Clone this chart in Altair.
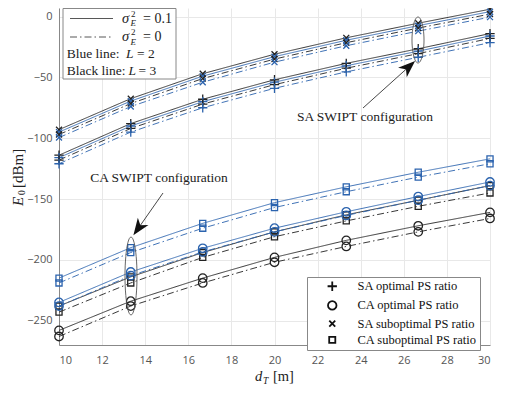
import altair as alt
import pandas as pd
import numpy as np

# ---------------- data ----------------
d_T = [10, 13.33, 16.67, 20, 23.33, 26.67, 30]

sa_sub_L3_s01 = [-93, -67.5, -47, -31, -17.5, -5.5, 6]
sa_sub_L2_s01 = [-95, -69.5, -49, -33, -19.5, -7.5, 4]
sa_sub_L3_s0 = [-97, -71.5, -51, -35, -21.5, -9.5, 2]
sa_sub_L2_s0 = [-99.5, -74, -54, -37.5, -24, -12, -0.5]

sa_opt_L3_s01 = [-114, -88, -68, -52, -38.5, -26.5, -14]
sa_opt_L2_s01 = [-116, -90, -70, -54, -40.5, -28.5, -16]
sa_opt_L3_s0 = [-118, -92, -72, -56, -42.5, -30.5, -18]
sa_opt_L2_s0 = [-121, -95, -75, -59, -45.5, -33.5, -21.5]

ca_sub_L2_s01 = [-215, -190, -170, -153, -140, -128, -117]
ca_sub_L2_s0 = [-219, -194, -174, -157, -144, -132, -121]
ca_sub_L3_s01 = [-238, -214, -194, -177, -163, -151, -139]
ca_sub_L3_s0 = [-243, -219, -198, -181, -168, -156, -145]

ca_opt_L2_s01 = [-235, -210, -190.5, -174, -160.5, -148, -136]
ca_opt_L2_s0 = [-238, -213, -193.5, -177, -163.5, -151, -139]
ca_opt_L3_s01 = [-258, -234, -215, -198, -184, -172, -161]
ca_opt_L3_s0 = [-263, -238, -219, -202, -189, -177, -166]

methods = ["SA optimal PS ratio", "CA optimal PS ratio",
           "SA suboptimal PS ratio", "CA suboptimal PS ratio"]

series = [
    ("SA suboptimal PS ratio", "L = 3", "0.1", sa_sub_L3_s01),
    ("SA suboptimal PS ratio", "L = 2", "0.1", sa_sub_L2_s01),
    ("SA suboptimal PS ratio", "L = 3", "0", sa_sub_L3_s0),
    ("SA suboptimal PS ratio", "L = 2", "0", sa_sub_L2_s0),
    ("SA optimal PS ratio", "L = 3", "0.1", sa_opt_L3_s01),
    ("SA optimal PS ratio", "L = 2", "0.1", sa_opt_L2_s01),
    ("SA optimal PS ratio", "L = 3", "0", sa_opt_L3_s0),
    ("SA optimal PS ratio", "L = 2", "0", sa_opt_L2_s0),
    ("CA suboptimal PS ratio", "L = 2", "0.1", ca_sub_L2_s01),
    ("CA suboptimal PS ratio", "L = 2", "0", ca_sub_L2_s0),
    ("CA suboptimal PS ratio", "L = 3", "0.1", ca_sub_L3_s01),
    ("CA suboptimal PS ratio", "L = 3", "0", ca_sub_L3_s0),
    ("CA optimal PS ratio", "L = 2", "0.1", ca_opt_L2_s01),
    ("CA optimal PS ratio", "L = 2", "0", ca_opt_L2_s0),
    ("CA optimal PS ratio", "L = 3", "0.1", ca_opt_L3_s01),
    ("CA optimal PS ratio", "L = 3", "0", ca_opt_L3_s0),
]

rows = []
for i, (m, L, s, vals) in enumerate(series):
    for d, v in zip(d_T, vals):
        rows.append({"d": d, "E": v, "method": m, "L": L, "sigma": s, "sid": i})
df = pd.DataFrame(rows)

# ---------------- style ----------------
BLUE = "#2b63ae"
BLACK = "#222222"
SERIF = "Liberation Serif"
SANS = "Open Sans"

PLUS = "M-1.1,0L1.1,0M0,-1.1L0,1.1"
XS = "M-0.7,-0.7L0.7,0.7M-0.7,0.7L0.7,-0.7"
SQ = "M-0.72,-0.72L0.72,-0.72L0.72,0.72L-0.72,0.72Z"

x_enc = alt.X("d:Q", scale=alt.Scale(domain=[10, 30], nice=False, zero=False),
              axis=alt.Axis(values=list(range(10, 31, 2)), title=None, labelFont=SANS,
                            labelFontSize=11, labelColor="#555", grid=True,
                            gridColor="#e8e8e8", domainColor="#888", ticks=False,
                            labelPadding=9))
y_enc = alt.Y("E:Q", scale=alt.Scale(domain=[-270, 7], nice=False, zero=False),
              axis=alt.Axis(values=[-250, -200, -150, -100, -50, 0], title=None,
                            labelFont=SANS, labelFontSize=11, labelColor="#555",
                            grid=True, gridColor="#e8e8e8", domainColor="#888",
                            ticks=False, labelPadding=7))
color_enc = alt.Color("L:N", scale=alt.Scale(domain=["L = 2", "L = 3"], range=[BLUE, BLACK]),
                      legend=None)

lines = alt.Chart(df).mark_line(strokeWidth=0.9).encode(
    x=x_enc, y=y_enc, color=color_enc,
    strokeDash=alt.StrokeDash("sigma:N", scale=alt.Scale(domain=["0.1", "0"],
                              range=[[1, 0], [7, 3, 1.5, 3]]), legend=None),
    detail="sid:N",
)

points = alt.Chart(df).mark_point(filled=False, size=72, strokeWidth=1.3, opacity=1).encode(
    x="d:Q", y="E:Q", color=color_enc,
    shape=alt.Shape("method:N", scale=alt.Scale(domain=methods, range=[PLUS, "circle", XS, SQ]),
                    legend=alt.Legend(title=None, orient="none", legendX=248, legendY=269,
                                      padding=3, strokeColor="#888", fillColor="white",
                                      labelFont=SERIF, labelFontSize=12.5, labelColor="#111",
                                      symbolSize=72, symbolStrokeColor="#111",
                                      symbolStrokeWidth=1.8, symbolOffset=16,
                                      labelOffset=19, rowPadding=2.2,
                                      symbolFillColor="transparent")),
)

one = pd.DataFrame({"a": [0]})


def txt(s, x, y, size=13.5, style="normal", angle=0, align="left", font=SERIF, color="#222"):
    return alt.Chart(one).mark_text(text=s, fontSize=size, fontStyle=style, font=font,
                                    align=align, baseline="middle", angle=angle,
                                    color=color).encode(x=alt.value(x), y=alt.value(y))


def ellipse_path(rx):
    t = np.linspace(0, 2 * np.pi, 49)
    pts = [(rx * np.sin(a), -np.cos(a)) for a in t]
    return "M" + "L".join(f"{px:.3f},{py:.3f}" for px, py in pts) + "Z"


def ellipse(cx, cy, hw, hh):
    return alt.Chart(one).mark_point(shape=ellipse_path(hw / hh), size=(2 * hh) ** 2,
                                     filled=False, stroke="#555", strokeWidth=0.9,
                                     opacity=1).encode(x=alt.value(cx), y=alt.value(cy))


ARROW = "M0,0L-0.38,1L0,0.72L0.38,1Z"


def arrow(x0, y0, x1, y1, ang):
    shaft = alt.Chart(one).mark_rule(color="#333", strokeWidth=0.9).encode(
        x=alt.value(x0), y=alt.value(y0), x2=alt.value(x1), y2=alt.value(y1))
    head = alt.Chart(one).mark_point(shape=ARROW, size=520, filled=True, fill="#111",
                                     stroke="#111", angle=ang, opacity=1).encode(
        x=alt.value(x1), y=alt.value(y1))
    return shaft + head


annotations = [
    ellipse(359, 32, 6, 23),
    ellipse(72, 268, 6, 39),
    arrow(304, 100, 354, 55, 48),
    arrow(104, 185, 76, 225, 215),
    txt("SA SWIPT configuration", 306, 109, size=13.5, align="center"),
    txt("CA SWIPT configuration", 100, 170, size=13.5, align="center"),
]

# top-left legend box
box = alt.Chart(one).mark_rect(fill="white", stroke="#888", strokeWidth=1).encode(
    x=alt.value(4), x2=alt.value(117), y=alt.value(0.5), y2=alt.value(71))
leg_solid = alt.Chart(one).mark_rule(color="#444", strokeWidth=0.9).encode(
    x=alt.value(11), x2=alt.value(54), y=alt.value(10.5))
leg_dash = alt.Chart(one).mark_rule(color="#444", strokeWidth=0.9, strokeDash=[7, 3, 1.5, 3]).encode(
    x=alt.value(11), x2=alt.value(54), y=alt.value(29))
legend_items = [
    box, leg_solid, leg_dash,
    txt("σ", 63, 10.5, size=14.5, style="italic"),
    txt("2", 72, 5.5, size=9),
    txt("E", 71.5, 15, size=9, style="italic"),
    txt("= 0.1", 84, 10.5, size=14),
    txt("σ", 63, 29, size=14.5, style="italic"),
    txt("2", 72, 24, size=9),
    txt("E", 71.5, 33.5, size=9, style="italic"),
    txt("= 0", 84, 29, size=14),
    txt("Blue line:", 7.7, 45.5, size=13.5),
    txt("L", 67, 45.5, size=13.5, style="italic"),
    txt("= 2", 78, 45.5, size=13.5),
    txt("Black line:", 7.7, 62.5, size=13.5),
    txt("L", 69.5, 62.5, size=13.5, style="italic"),
    txt("= 3", 79.5, 62.5, size=13.5),
]

# axis titles
titles = [
    txt("d", 196, 369, size=14.5, style="italic"),
    txt("T", 204, 373, size=9.5, style="italic"),
    txt("[m]", 214, 369, size=14.5),
    txt("E", -41, 198, size=15, style="italic", angle=270),
    txt("0", -37.5, 187, size=9.5, angle=270),
    txt("[dBm]", -41, 180, size=15, angle=270),
]

layers = [lines, points] + annotations + legend_items + titles
chart = alt.layer(*layers).properties(
    width=431, height=337,
    autosize=alt.AutoSizeParams(type="none"),
    padding={"left": 51, "top": 0, "right": 10, "bottom": 48},
).configure_view(stroke=None)

chart.save("out.html", embed_options={"renderer": "svg", "actions": False})
